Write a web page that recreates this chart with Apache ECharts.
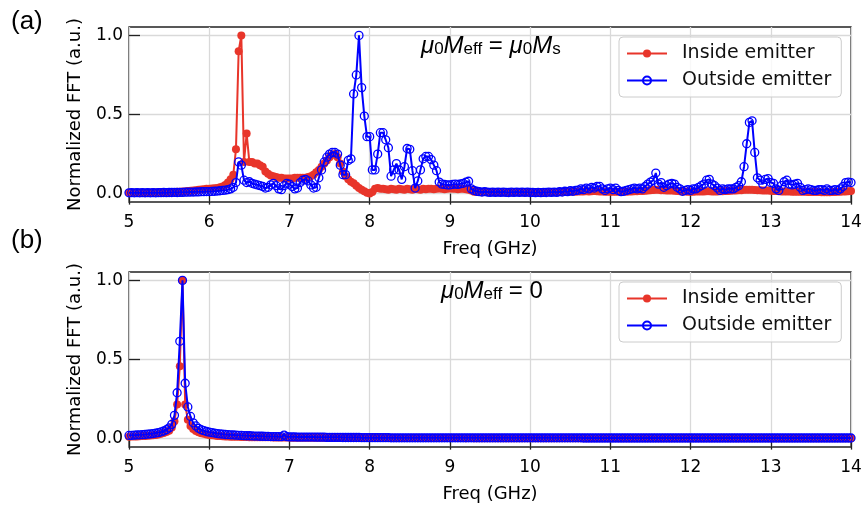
<!DOCTYPE html>
<html><head><meta charset="utf-8">
<script src="https://cdn.jsdelivr.net/npm/echarts@6/dist/echarts.min.js"></script>
<style>html,body{margin:0;padding:0;background:#fff}#c{width:865px;height:510px}</style>
</head><body><div id="c"></div>
<script>
// FFT frequency bins (GHz): first bin and bin spacing
const freqStart = 5, freqStep = 1 / 30;
const xTicks = [5, 6, 7, 8, 9, 10, 11, 12, 13, 14];
const yTicks = [0, 0.5, 1.0];
const seriesNames = ['Inside emitter', 'Outside emitter'];
const panelLabels = ['(a)', '(b)'];

// (a) mu0 Meff = mu0 Ms
const insideA = [
 .005,.005,.005,.005,.006,.005,.006,.006,.006,.007,
 .007,.007,.008,.008,.009,.009,.01,.01,.011,.012,
 .013,.014,.016,.018,.02,.022,.024,.026,.028,.03,
 .03,.032,.034,.036,.04,.045,.055,.07,.09,.12,
 .28,.9,1.0,.2,.38,.2,.2,.19,.19,.18,
 .17,.14,.125,.115,.11,.105,.1,.1,.095,.095,
 .095,.095,.1,.1,.1,.1,.1,.105,.11,.12,
 .135,.15,.17,.19,.21,.23,.245,.25,.23,.19,
 .14,.11,.09,.075,.065,.05,.035,.025,.015,.005,
 0,.01,.03,.035,.03,.03,.028,.025,.03,.028,
 .025,.03,.028,.025,.03,.028,.025,.03,.028,.025,
 .03,.028,.03,.03,.028,.03,.032,.03,.028,.03,
 .032,.03,.03,.028,.03,.03,.028,.025,.02,.012,
 .01,.01,.008,.01,.009,.008,.01,.009,.008,.01,
 .009,.008,.01,.009,.008,.01,.009,.008,.01,.009,
 .008,.01,.009,.008,.01,.009,.008,.01,.009,.01,
 .01,.011,.01,.012,.011,.012,.013,.012,.014,.013,
 .014,.015,.014,.015,.016,.015,.014,.013,.012,.012,
 .012,.011,.012,.011,.012,.013,.012,.013,.014,.015,
 .015,.016,.017,.018,.02,.022,.023,.025,.024,.022,
 .022,.02,.02,.019,.018,.016,.015,.014,.013,.012,
 .012,.012,.013,.013,.014,.014,.015,.015,.014,.014,
 .014,.015,.015,.016,.017,.018,.019,.02,.021,.022,
 .024,.025,.025,.024,.023,.022,.021,.02,.02,.019,
 .018,.017,.016,.015,.014,.014,.013,.013,.012,.012,
 .012,.011,.011,.011,.01,.01,.01,.01,.01,.009,
 .009,.009,.009,.01,.01,.011,.012,.013,.014,.015,
 .016
];
const outsideA = [
 .005,.006,.005,.006,.005,.006,.005,.006,.005,.006,
 .005,.006,.006,.007,.006,.007,.007,.008,.007,.008,
 .008,.009,.009,.01,.01,.011,.011,.012,.012,.013,
 .013,.014,.015,.016,.018,.02,.022,.025,.03,.04,
 .07,.2,.18,.085,.07,.075,.065,.06,.055,.05,
 .045,.035,.04,.055,.065,.05,.03,.025,.05,.065,
 .06,.045,.03,.035,.07,.085,.09,.08,.055,.035,
 .04,.1,.15,.2,.23,.25,.26,.26,.25,.18,
 .12,.12,.21,.22,.63,.75,1.0,.67,.49,.36,
 .36,.15,.15,.25,.385,.385,.34,.29,.11,.15,
 .19,.15,.09,.17,.285,.28,.145,.035,.08,.15,
 .22,.235,.235,.215,.18,.145,.073,.06,.058,.055,
 .055,.058,.06,.058,.062,.065,.072,.078,.03,.02,
 .015,.012,.01,.012,.01,.008,.01,.008,.01,.008,
 .01,.008,.007,.009,.008,.01,.008,.01,.008,.009,
 .007,.008,.006,.008,.006,.008,.007,.009,.008,.01,
 .008,.012,.01,.015,.012,.018,.015,.02,.022,.03,
 .025,.035,.03,.04,.035,.045,.046,.03,.02,.03,
 .035,.025,.035,.02,.012,.015,.02,.025,.03,.035,
 .03,.035,.03,.045,.06,.073,.083,.13,.06,.07,
 .04,.05,.06,.065,.06,.04,.03,.015,.02,.025,
 .02,.03,.03,.04,.05,.06,.085,.09,.06,.05,
 .035,.02,.03,.025,.03,.03,.03,.04,.05,.075,
 .17,.315,.45,.46,.26,.1,.085,.06,.09,.095,
 .07,.065,.03,.02,.05,.075,.085,.06,.055,.06,
 .065,.04,.02,.025,.03,.025,.02,.02,.025,.025,
 .02,.03,.02,.02,.025,.02,.03,.045,.07,.073,
 .07
];
// (b) mu0 Meff = 0
const insideB = [
 .012,.013,.013,.014,.015,.016,.017,.018,.019,.021,
 .023,.026,.03,.035,.042,.05,.07,.11,.215,.457,
 1.0,.215,.12,.08,.06,.048,.04,.034,.03,.026,
 .023,.021,.019,.017,.016,.015,.014,.013,.012,.012,
 .011,.011,.01,.01,.01,.009,.009,.009,.009,.008,
 .008,.008,.008,.008,.007,.007,.007,.007,.007,.007,
 .007,.006,.006,.006,.006,.006,.006,.006,.006,.006,
 .006,.006,.005,.005,.005,.005,.005,.005,.005,.005,
 .005,.005,.005,.005,.005,.005,.005,.005,.005,.005,
 .005,.005,.005,.004,.005,.005,.004,.005,.004,.004,
 .004,.004,.004,.004,.004,.004,.004,.004,.004,.004,
 .004,.004,.004,.004,.004,.004,.004,.004,.004,.004,
 .004,.004,.004,.004,.004,.004,.003,.004,.004,.003,
 .003,.003,.003,.003,.003,.003,.003,.003,.003,.003,
 .003,.003,.003,.003,.003,.003,.003,.003,.003,.003,
 .003,.003,.003,.003,.003,.003,.003,.003,.003,.003,
 .003,.003,.003,.003,.003,.003,.003,.003,.003,.003,
 .003,.003,.003,.003,.003,.003,.003,.003,.003,.003,
 .003,.003,.003,.003,.003,.003,.003,.003,.003,.003,
 .003,.003,.003,.003,.003,.003,.003,.003,.003,.003,
 .003,.003,.003,.003,.003,.003,.003,.003,.003,.003,
 .003,.003,.003,.003,.003,.003,.003,.003,.003,.003,
 .003,.003,.003,.003,.003,.003,.003,.003,.003,.003,
 .003,.003,.003,.003,.003,.003,.003,.003,.003,.003,
 .003,.003,.003,.003,.003,.003,.003,.003,.003,.003,
 .003,.003,.003,.003,.003,.003,.003,.003,.003,.003,
 .003,.003,.003,.003,.003,.003,.003,.003,.003,.003,
 .003
];
const outsideB = [
 .02,.021,.022,.023,.024,.025,.026,.028,.03,.032,
 .035,.038,.042,.048,.056,.068,.09,.147,.29,.615,
 1.0,.35,.2,.14,.1,.08,.065,.056,.05,.045,
 .041,.038,.035,.032,.03,.028,.026,.025,.024,.023,
 .022,.021,.02,.019,.018,.018,.017,.016,.016,.015,
 .015,.014,.014,.013,.013,.013,.012,.012,.022,.012,
 .011,.011,.011,.01,.01,.01,.01,.01,.01,.01,
 .009,.009,.009,.009,.008,.008,.008,.008,.008,.008,
 .007,.007,.007,.007,.007,.007,.007,.006,.006,.006,
 .006,.006,.006,.006,.006,.006,.006,.006,.005,.005,
 .005,.005,.005,.005,.005,.005,.005,.005,.005,.005,
 .005,.005,.005,.005,.005,.005,.005,.005,.005,.005,
 .005,.005,.005,.005,.005,.005,.005,.005,.005,.005,
 .005,.005,.005,.005,.005,.005,.005,.005,.005,.005,
 .005,.005,.005,.005,.005,.005,.005,.005,.005,.005,
 .005,.005,.005,.005,.005,.005,.005,.005,.005,.005,
 .005,.005,.005,.005,.005,.005,.005,.005,.005,.005,
 .004,.004,.004,.004,.004,.004,.004,.004,.004,.004,
 .004,.004,.004,.004,.004,.004,.004,.004,.004,.004,
 .004,.004,.004,.004,.004,.004,.004,.004,.004,.004,
 .004,.004,.004,.004,.004,.004,.004,.004,.004,.004,
 .004,.004,.004,.004,.004,.004,.004,.004,.004,.004,
 .004,.004,.004,.004,.004,.004,.004,.004,.004,.004,
 .004,.004,.004,.004,.004,.004,.004,.004,.004,.004,
 .004,.004,.004,.004,.004,.004,.004,.004,.004,.004,
 .004,.004,.004,.004,.004,.004,.004,.004,.004,.004,
 .004,.004,.004,.004,.004,.004,.004,.004,.004,.004,
 .004
];

const RED = '#e8352a', BLUE = '#0000ff';
const FONT = 'DejaVu Sans';
function pairs(vals) { return vals.map((v, i) => [freqStart + i * freqStep, v]); }

const grids = [
  { left: 129, top: 27, width: 722, height: 175 },
  { left: 129, top: 272, width: 722, height: 175 }
];

function xAxisFor(g) {
  return {
    type: 'value', gridIndex: g, min: xTicks[0], max: xTicks[xTicks.length - 1], interval: 1,
    axisLine: { show: false },
    axisTick: { show: true, inside: false, length: 11, lineStyle: { color: '#222', width: 1.3 } },
    axisLabel: { fontSize: 17, fontFamily: FONT, color: '#000', margin: 12 },
    splitLine: { show: true, lineStyle: { color: '#d9d9d9', width: 1.3 } },
    name: 'Freq (GHz)', nameLocation: 'middle', nameGap: 38,
    nameTextStyle: { fontSize: 18, fontFamily: FONT, color: '#000' }
  };
}
function yAxisFor(g) {
  return {
    type: 'value', gridIndex: g, min: -0.053, max: 1.053,
    axisLine: { show: false },
    axisTick: { show: true, inside: true, length: 11, customValues: yTicks, lineStyle: { color: '#222', width: 1.3 } },
    axisLabel: { customValues: yTicks, formatter: v => v.toFixed(1), fontSize: 17, fontFamily: FONT, color: '#000', margin: 6 },
    splitLine: { show: true, lineStyle: { color: '#d9d9d9', width: 1.3 } },
    name: 'Normalized FFT (a.u.)', nameLocation: 'middle', nameGap: 45, nameRotate: 90,
    nameTextStyle: { fontSize: 18, fontFamily: FONT, color: '#000' }
  };
}
function redSeries(g, vals) {
  return {
    type: 'line', name: seriesNames[0], xAxisIndex: g, yAxisIndex: g, data: pairs(vals),
    symbol: 'circle', symbolSize: 8, showSymbol: true,
    itemStyle: { color: RED }, lineStyle: { color: RED, width: 2 }, z: 2
  };
}
function blueSeries(g, vals) {
  return {
    type: 'line', name: seriesNames[1], xAxisIndex: g, yAxisIndex: g, data: pairs(vals),
    symbol: 'circle', symbolSize: 8, showSymbol: true,
    itemStyle: { color: 'rgba(0,0,0,0)', borderColor: BLUE, borderWidth: 1.3 },
    lineStyle: { color: BLUE, width: 2 }, z: 3
  };
}
function legendFor(top) {
  return {
    left: 619, top: top, orient: 'vertical', itemWidth: 40, itemHeight: 10, itemGap: 6,
    padding: [6, 10, 6, 7], borderColor: '#cccccc', borderWidth: 1, borderRadius: 4,
    backgroundColor: 'rgba(255,255,255,0.8)',
    textStyle: { fontSize: 19, fontFamily: FONT, color: '#111', lineHeight: 21, padding: [0, 0, 0, 10] },
    data: seriesNames
  };
}
const sub = { fontFamily: 'Liberation Sans', fontSize: 17, lineHeight: 18, verticalAlign: 'bottom', fill: '#000' };
const ital = { fontFamily: 'Liberation Sans', fontStyle: 'italic', fontSize: 24, lineHeight: 27, verticalAlign: 'bottom', fill: '#000' };
const norm = { fontFamily: 'Liberation Sans', fontSize: 24, lineHeight: 27, verticalAlign: 'bottom', fill: '#000' };

const chart = echarts.init(document.getElementById('c'), null, { renderer: 'canvas' });
chart.setOption({
  animation: false,
  backgroundColor: '#fff',
  grid: grids.map(g => Object.assign({ show: true, borderColor: '#222', borderWidth: 1.3, backgroundColor: 'transparent' }, g)),
  xAxis: [xAxisFor(0), xAxisFor(1)],
  yAxis: [yAxisFor(0), yAxisFor(1)],
  legend: [legendFor(37), legendFor(282)],
  series: [redSeries(0, insideA), blueSeries(0, outsideA), redSeries(1, insideB), blueSeries(1, outsideB)],
  graphic: [
    { type: 'text', left: 11, top: 9, style: { text: panelLabels[0], font: '26px "Liberation Sans"', fill: '#000' } },
    { type: 'text', left: 11, top: 228, style: { text: panelLabels[1], font: '26px "Liberation Sans"', fill: '#000' } },
    { type: 'text', left: 421, top: 34, z: 10, style: {
        text: '{i|μ}{s|0}{i|M}{s|eff}{n| = }{i|μ}{s|0}{i|M}{s|s}',
        rich: { i: ital, s: sub, n: norm } } },
    { type: 'text', left: 441, top: 279, z: 10, style: {
        text: '{i|μ}{s|0}{i|M}{s|eff}{n| = 0}',
        rich: { i: ital, s: sub, n: norm } } }
  ]
});
</script>
</body></html>
